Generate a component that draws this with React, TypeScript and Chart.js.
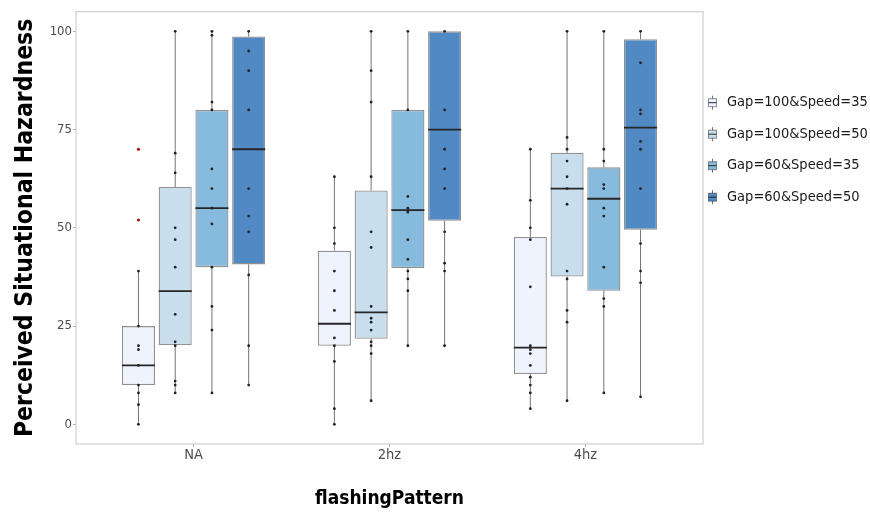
import React, { useEffect, useRef } from 'react';
import { Chart, registerables } from 'chart.js';

Chart.register(...registerables);

// ---- data ----
const categories = ['NA', '2hz', '4hz'];
const seriesNames = ['Gap=100&Speed=35', 'Gap=100&Speed=50', 'Gap=60&Speed=35', 'Gap=60&Speed=50'];
const yTicks = [0, 25, 50, 75, 100];

// per series -> per category
const q1 = [
  [10, 20, 12.8],
  [20.2, 21.8, 37.6],
  [40, 39.8, 34],
  [40.7, 51.8, 49.5],
];
const median = [
  [15, 25.6, 19.5],
  [33.9, 28.5, 60],
  [55, 54.5, 57.4],
  [70, 75, 75.5],
];
const q3 = [
  [25, 44.2, 47.7],
  [60.4, 59.5, 69.1],
  [80, 80, 65.4],
  [98.7, 100, 98],
];
const whiskerLow = [
  [0, 0, 4],
  [8, 6, 6],
  [8, 20, 8],
  [10, 20, 7],
];
const whiskerHigh = [
  [39, 63, 70],
  [100, 100, 100],
  [100, 100, 100],
  [100, 100, 100],
];
const points = [
  [
    [39, 25, 20, 19, 15, 10, 8, 5, 0],
    [63, 50, 46, 39, 34, 29, 22, 20, 16, 4, 0],
    [70, 57, 50, 47, 35, 20, 19, 18, 15, 12, 10, 8, 4],
  ],
  [
    [100, 69, 64, 50, 47, 40, 28, 21, 20, 11, 10, 8],
    [100, 90, 82, 63, 49, 45, 30, 27, 26, 24, 21, 20, 18, 6],
    [100, 73, 70, 67, 63, 60, 56, 39, 37, 29, 26, 6],
  ],
  [
    [100, 99, 82, 80, 65, 60, 55, 51, 40, 30, 24, 8],
    [100, 80, 58, 55, 54, 47, 42, 39, 37, 34, 20],
    [100, 70, 67, 61, 60, 55, 53, 40, 32, 30, 8],
  ],
  [
    [100, 95, 90, 80, 60, 53, 49, 38, 20, 10],
    [100, 80, 70, 65, 60, 49, 41, 39, 20],
    [100, 92, 80, 79, 72, 70, 60, 46, 39, 36, 7],
  ],
];
const outliers = [
  [[70, 52], [], []],
  [[], [], []],
  [[], [], []],
  [[], [], []],
];

const fills = ['#EFF3FE', '#C8DEEC', '#87BBDD', '#5089C4'];
const BOX_BORDER = 'rgba(55,55,55,0.55)';
const WHISKER = 'rgba(70,70,70,0.75)';
const TICK_FONT = "'DejaVu Sans Condensed', 'DejaVu Sans', sans-serif";
const TITLE_FONT = "'DejaVu Sans Condensed', 'DejaVu Sans', sans-serif";

const nS = seriesNames.length;
const dodge = (s: number) => ((s - (nS - 1) / 2) * 0.75) / nS;

const boxPlugin = {
  id: 'boxParts',
  beforeDatasetsDraw(chart: any) {
    const { ctx, chartArea: a, scales } = chart;
    const y = scales.y;
    ctx.save();
    ctx.strokeStyle = '#cfcfcf';
    ctx.lineWidth = 1.2;
    ctx.strokeRect(a.left, a.top, a.right - a.left, a.bottom - a.top);
    ctx.strokeStyle = WHISKER;
    ctx.lineWidth = 1;
    for (let s = 0; s < nS; s++) {
      const meta = chart.getDatasetMeta(s);
      meta.data.forEach((bar: any, g: number) => {
        const x = bar.x;
        ctx.beginPath();
        ctx.moveTo(x, y.getPixelForValue(whiskerLow[s][g]));
        ctx.lineTo(x, y.getPixelForValue(q1[s][g]));
        ctx.moveTo(x, y.getPixelForValue(q3[s][g]));
        ctx.lineTo(x, y.getPixelForValue(whiskerHigh[s][g]));
        ctx.stroke();
      });
    }
    ctx.restore();
  },
  afterDatasetDraw(chart: any, args: any) {
    const s = args.index;
    if (s >= nS) return;
    const { ctx, scales } = chart;
    const y = scales.y;
    ctx.save();
    ctx.strokeStyle = '#262626';
    ctx.lineWidth = 1.8;
    args.meta.data.forEach((bar: any, g: number) => {
      const yy = y.getPixelForValue(median[s][g]);
      ctx.beginPath();
      ctx.moveTo(bar.x - bar.width / 2, yy);
      ctx.lineTo(bar.x + bar.width / 2, yy);
      ctx.stroke();
    });
    ctx.restore();
  },
  afterDraw(chart: any) {
    const { ctx, chartArea: a } = chart;
    ctx.save();
    for (let s = 0; s < nS; s++) {
      const cy = a.top + 91 + s * 31.5;
      const kx = a.right + 9.5;
      ctx.strokeStyle = WHISKER;
      ctx.lineWidth = 1;
      ctx.beginPath();
      ctx.moveTo(kx, cy - 7);
      ctx.lineTo(kx, cy + 7);
      ctx.stroke();
      ctx.fillStyle = fills[s];
      ctx.fillRect(kx - 4, cy - 4, 8, 8);
      ctx.strokeStyle = BOX_BORDER;
      ctx.strokeRect(kx - 4, cy - 4, 8, 8);
      ctx.strokeStyle = '#262626';
      ctx.beginPath();
      ctx.moveTo(kx - 4, cy);
      ctx.lineTo(kx + 4, cy);
      ctx.stroke();
      ctx.fillStyle = '#1a1a1a';
      ctx.font = `14.5px ${TICK_FONT}`;
      ctx.textBaseline = 'middle';
      ctx.textAlign = 'left';
      ctx.fillText(chart.data.datasets[s].label, a.right + 24, cy);
    }
    ctx.restore();
  },
};

export default function App() {
  const ref = useRef<HTMLCanvasElement>(null);
  useEffect(() => {
    document.body.style.margin = '0';
    const barSets = seriesNames.map((name, s) => ({
      type: 'bar',
      label: name,
      data: categories.map((_, g) => ({ x: g + 1, y: [q1[s][g], q3[s][g]] })),
      backgroundColor: fills[s],
      borderColor: BOX_BORDER,
      borderWidth: 1.3,
      borderSkipped: false,
      categoryPercentage: 0.75,
      barPercentage: 0.9,
      order: 2,
    }));
    const pointSets = seriesNames.map((name, s) => ({
      type: 'scatter',
      label: name + ' points',
      data: categories.flatMap((_, g) => points[s][g].map((v) => ({ x: g + 1 + dodge(s), y: v }))),
      pointRadius: 1.4,
      pointHoverRadius: 1.4,
      backgroundColor: '#222',
      borderWidth: 0,
      order: 1,
    }));
    const outlierSets = seriesNames.map((name, s) => ({
      type: 'scatter',
      label: name + ' outliers',
      data: categories.flatMap((_, g) => outliers[s][g].map((v) => ({ x: g + 1 + dodge(s), y: v }))),
      pointRadius: 1.5,
      backgroundColor: '#b00000',
      borderWidth: 0,
      order: 0,
    }));

    const chart = new Chart(ref.current as HTMLCanvasElement, {
      type: 'bar',
      data: { datasets: [...barSets, ...pointSets, ...outlierSets] as any },
      options: {
        animation: false,
        responsive: false,
        devicePixelRatio: 1,
        layout: { padding: { left: 0, right: 167, top: 11.7, bottom: 0 } },
        plugins: { legend: { display: false }, tooltip: { enabled: false } },
        scales: {
          x: {
            type: 'linear',
            min: 0.4,
            max: 3.6,
            offset: false,
            grid: { display: true, drawOnChartArea: false, drawTicks: true, tickLength: 3, color: '#b0b0b0', offset: false },
            border: { display: false },
            afterBuildTicks: (sc: any) => {
              sc.ticks = categories.map((_, i) => ({ value: i + 1 }));
            },
            afterFit: (sc: any) => {
              sc.height = 75;
            },
            ticks: {
              color: '#4d4d4d',
              font: { family: TICK_FONT, size: 14.5 },
              padding: 0,
              maxRotation: 0,
              autoSkip: false,
              callback: (v: any) => categories[Math.round(v) - 1] ?? '',
            },
            title: {
              display: true,
              text: 'flashingPattern',
              color: '#000',
              font: { family: TITLE_FONT, size: 19, weight: 'bold' },
              padding: { top: 0, bottom: 9 },
            },
          },
          y: {
            type: 'linear',
            min: -5,
            max: 105,
            grid: { display: true, drawOnChartArea: false, drawTicks: true, tickLength: 3, color: '#b0b0b0' },
            border: { display: false },
            afterBuildTicks: (sc: any) => {
              sc.ticks = yTicks.map((v) => ({ value: v }));
            },
            afterFit: (sc: any) => {
              sc.width = 76;
            },
            ticks: {
              color: '#4d4d4d',
              font: { family: TICK_FONT, size: 13 },
              padding: 1,
            },
            title: {
              display: true,
              text: 'Perceived Situational Hazardness',
              color: '#000',
              font: { family: TITLE_FONT, size: 24.5, weight: 'bold' },
              padding: { top: 11, bottom: 0 },
            },
          },
        },
      },
      plugins: [boxPlugin],
    } as any);
    return () => chart.destroy();
  }, []);

  return (
    <div style={{ width: 870, height: 519 }}>
      <canvas ref={ref} width={870} height={519} style={{ display: 'block' }} />
    </div>
  );
}
